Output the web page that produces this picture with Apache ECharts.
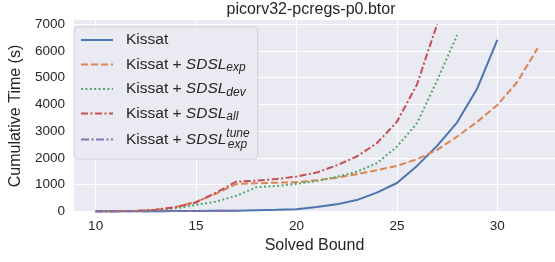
<!DOCTYPE html>
<html>
<head>
<meta charset="utf-8">
<script src="https://cdn.jsdelivr.net/npm/echarts@6/dist/echarts.min.js"></script>
<style>
  html, body { margin: 0; padding: 0; background: #fff; }
  #main { width: 555px; height: 262px; }
</style>
</head>
<body>
<div id="main"></div>
<script>
// solved bound starts at 10 for every run
var startBound = 10;
var kissat    = [1, 2, 3, 5, 8, 12, 18, 25, 40, 55, 80, 160, 260, 420, 700, 1060, 1700, 2450, 3330, 4600, 6420];
var sdslExp   = [2, 5, 15, 60, 160, 360, 660, 1020, 1050, 1070, 1090, 1160, 1260, 1390, 1540, 1700, 1950, 2300, 2800, 3350, 3980, 4850, 6100];
var sdslDev   = [2, 5, 12, 40, 110, 240, 360, 580, 900, 950, 1030, 1130, 1290, 1480, 1800, 2420, 3300, 4900, 6600];
var sdslAll   = [2, 5, 15, 60, 160, 330, 700, 1110, 1150, 1210, 1300, 1450, 1720, 2050, 2550, 3350, 4750, 7000];
var sdslTune  = [1, 2, 3, 5, 8, 12, 18, 25];

var seriesNames = ['Kissat', 'Kissat + SDSL_exp', 'Kissat + SDSL_dev', 'Kissat + SDSL_all', 'Kissat + SDSL_exp^tune'];
var legendLabels = [
  'Kissat',
  'Kissat + {it|SDSL}{sub|exp}',
  'Kissat + {it|SDSL}{sub|dev}',
  'Kissat + {it|SDSL}{sub|all}',
  'Kissat + {it|SDSL}{sup|tune}{sub2|exp}'
];
var xTicks = [10, 15, 20, 25, 30];
var yTicks = [0, 1000, 2000, 3000, 4000, 5000, 6000, 7000];

var colors = ['#4C72B0', '#DD8452', '#55A868', '#C44E52', '#8172B3'];
var dashes = ['solid', [7, 3], [2, 2.4], [7, 2.5, 2, 2.5], [8, 2.5, 2, 2.5]];
var FONT = '"Liberation Sans", Arial, sans-serif';

function pairs(vals) {
  var out = [];
  for (var i = 0; i < vals.length; i++) out.push([startBound + i, vals[i]]);
  return out;
}

var allData = [kissat, sdslExp, sdslDev, sdslAll, sdslTune];
var series = [];
for (var k = 0; k < allData.length; k++) {
  series.push({
    name: seriesNames[k],
    type: 'line',
    data: pairs(allData[k]),
    symbol: 'none',
    color: colors[k],
    lineStyle: { width: 2, type: dashes[k], cap: 'butt' }
  });
}

var subStyle = { fontFamily: FONT, fontSize: 12, fontStyle: 'italic', lineHeight: 20, color: '#262626' };

var option = {
  animation: false,
  title: {
    text: 'picorv32-pcregs-p0.btor',
    left: 311,
    textAlign: 'center',
    top: 2,
    padding: 0,
    textStyle: { fontFamily: FONT, fontSize: 16, fontWeight: 'normal', color: '#262626' }
  },
  grid: {
    left: 67, right: 0, top: 20, bottom: 50,
    show: true, backgroundColor: '#EAEAF2', borderWidth: 0
  },
  legend: {
    orient: 'vertical',
    left: 74,
    top: 27,
    padding: [3, 8, 8, 6],
    itemWidth: 32,
    itemHeight: 14,
    itemGap: 4.5,
    // line samples only, no marker dot
    itemStyle: { color: 'rgba(0,0,0,0)', borderWidth: 0, opacity: 0 },
    backgroundColor: 'rgba(234,234,242,0.85)',
    borderColor: '#cfcfd4',
    borderWidth: 1,
    borderRadius: 4,
    data: seriesNames,
    formatter: function (name) {
      return '{sp|}' + legendLabels[seriesNames.indexOf(name)];
    },
    textStyle: {
      fontFamily: FONT, fontSize: 15.5, lineHeight: 20, color: '#262626',
      rich: {
        sp: { width: 8, lineHeight: 20 },
        it: { fontFamily: FONT, fontSize: 15.5, fontStyle: 'italic', lineHeight: 20, color: '#262626' },
        sub: Object.assign({}, subStyle, { padding: [7, 0, 0, 0] }),
        sup: Object.assign({}, subStyle, { padding: [0, 0, 11, 0] }),
        sub2: Object.assign({}, subStyle, { padding: [10, 0, 0, -22] })
      }
    }
  },
  xAxis: {
    type: 'value',
    min: 8.92,
    max: 32.87,
    name: 'Solved Bound',
    nameLocation: 'middle',
    nameGap: 21,
    nameTextStyle: { fontFamily: FONT, fontSize: 16, color: '#262626' },
    axisLine: { show: false },
    axisTick: { show: false, customValues: xTicks },
    axisLabel: { customValues: xTicks, margin: 7, fontFamily: FONT, fontSize: 13.5, color: '#262626' },
    splitLine: { show: true, lineStyle: { color: '#ffffff', width: 1 } }
  },
  yAxis: {
    type: 'value',
    min: -26,
    max: 7161,
    name: 'Cumulative Time (s)',
    nameLocation: 'middle',
    nameGap: 43,
    nameTextStyle: { fontFamily: FONT, fontSize: 16, color: '#262626' },
    axisLine: { show: false },
    axisTick: { show: false, customValues: yTicks },
    axisLabel: {
      customValues: yTicks, margin: 9, fontFamily: FONT, fontSize: 13.5, color: '#262626',
      formatter: function (v) { return String(v); }
    },
    splitLine: { show: true, lineStyle: { color: '#ffffff', width: 1 } }
  },
  series: series
};

var chart = echarts.init(document.getElementById('main'), null, { renderer: 'canvas' });
chart.setOption(option);
</script>
</body>
</html>
